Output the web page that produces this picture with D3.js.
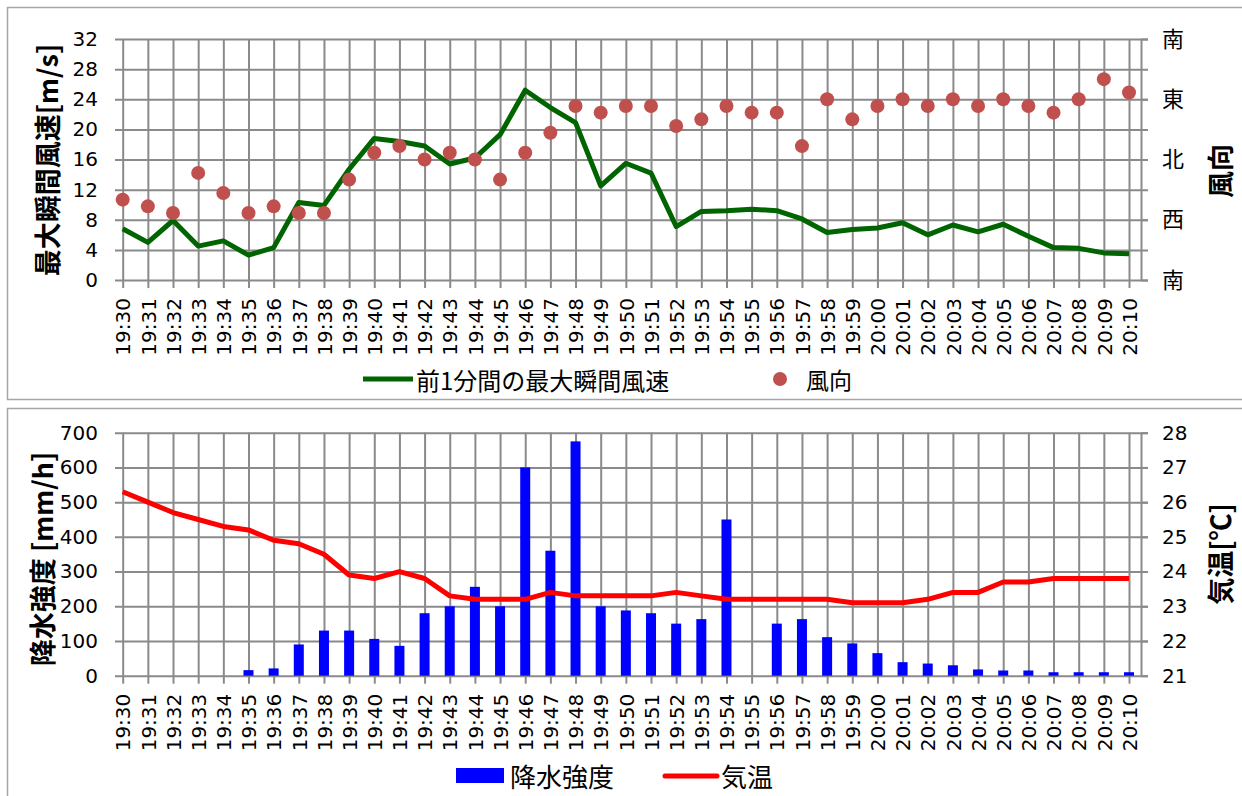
<!DOCTYPE html>
<html>
<head>
<meta charset="utf-8">
<script src="https://cdn.jsdelivr.net/npm/d3@7"></script>
<style>
  body { margin: 0; background: #fff; }
  svg text { fill: #000; }
</style>
</head>
<body>
<div id="chart"></div>
<script>
// --- data ---
const times = ["19:30","19:31","19:32","19:33","19:34","19:35","19:36","19:37","19:38","19:39",
    "19:40","19:41","19:42","19:43","19:44","19:45","19:46","19:47","19:48","19:49",
    "19:50","19:51","19:52","19:53","19:54","19:55","19:56","19:57","19:58","19:59",
    "20:00","20:01","20:02","20:03","20:04","20:05","20:06","20:07","20:08","20:09","20:10"];

// 前1分間の最大瞬間風速 [m/s]
const gust = [6.8, 5.0, 7.9, 4.5, 5.2, 3.3, 4.3, 10.3, 9.9, 14.7,
    18.8, 18.4, 17.8, 15.4, 16.2, 19.3, 25.2, 22.9, 20.9, 12.5,
    15.5, 14.2, 7.1, 9.1, 9.2, 9.4, 9.2, 8.1, 6.3, 6.7,
    6.9, 7.6, 6.0, 7.3, 6.4, 7.4, 5.8, 4.3, 4.2, 3.6, 3.5];

// 風向 [deg, 0 = 北, 90 = 東]
const windDir = [300, 290, 280, 340, 310, 280, 290, 280, 280, 330,
    10, 20, 0, 10, 0, 330, 10, 40, 80, 70,
    80, 80, 50, 60, 80, 70, 70, 20, 90, 60,
    80, 90, 80, 90, 80, 90, 80, 70, 90, 120, 100];

// 降水強度 [mm/h]
const rain = [0, 0, 0, 0, 0, 16, 21, 90, 130, 130,
    106, 86, 180, 200, 256, 200, 600, 360, 675, 200,
    188, 180, 150, 163, 450, 0, 150, 163, 111, 93,
    65, 39, 35, 30, 18, 15, 15, 10, 10, 10, 10];

// 気温 [℃]
const temp = [26.3, 26.0, 25.7, 25.5, 25.3, 25.2, 24.9, 24.8, 24.5, 23.9,
    23.8, 24.0, 23.8, 23.3, 23.2, 23.2, 23.2, 23.4, 23.3, 23.3,
    23.3, 23.3, 23.4, 23.3, 23.2, 23.2, 23.2, 23.2, 23.2, 23.1,
    23.1, 23.1, 23.2, 23.4, 23.4, 23.7, 23.7, 23.8, 23.8, 23.8, 23.8];

const gustTicks = [0, 4, 8, 12, 16, 20, 24, 28, 32];
const dirTicks = [0, 90, 180, 270, 360];
const dirLabels = ["南", "西", "北", "東", "南"];
const rainTicks = [0, 100, 200, 300, 400, 500, 600, 700];
const tempTicks = [21, 22, 23, 24, 25, 26, 27, 28];

// --- layout ---
const W = 1242, H = 796;
const plotL = 122.7, plotR = 1141, tickL = 115;
const grid = "#8a8a8a";
const numFont = "DejaVu Sans";
const cjkFont = "Noto Sans CJK JP";

const svg = d3.select("#chart").append("svg")
    .attr("width", W).attr("height", H)
    .style("display", "block");

// panel borders
svg.append("rect").attr("x", 7.5).attr("y", 7.5).attr("width", W).attr("height", 392)
    .attr("fill", "none").attr("stroke", "#a6a6a6").attr("stroke-width", 1.5);
svg.append("rect").attr("x", 7.5).attr("y", 408.5).attr("width", W).attr("height", 400)
    .attr("fill", "none").attr("stroke", "#a6a6a6").attr("stroke-width", 1.5);

const x = d3.scalePoint().domain(times).range([plotL, 1129]);

function styleAxis(g) {
    g.selectAll(".tick line").attr("stroke", grid).attr("stroke-width", 2);
    g.selectAll("path.domain").remove();
}

function drawFrame(top, bottom, yLeft, leftTicks, yRight, rightTicks, rightFmt, rightFont) {
    // horizontal grid + left labels
    const gl = svg.append("g").attr("transform", `translate(${tickL},0)`)
        .call(d3.axisLeft(yLeft).tickValues(leftTicks).tickSize(-(1148 - tickL)).tickPadding(17));
    styleAxis(gl);
    gl.selectAll("text").attr("font-family", numFont).attr("font-size", 20);

    // vertical grid + rotated time labels
    const gx = svg.append("g").attr("transform", `translate(0,${bottom + 8})`)
        .call(d3.axisBottom(x).tickSize(-(bottom + 8 - top)));
    styleAxis(gx);
    gx.selectAll("text")
        .attr("font-family", numFont).attr("font-size", 20)
        .attr("transform", "rotate(-90)")
        .attr("text-anchor", "end")
        .attr("x", -10).attr("y", 0).attr("dy", "0.36em");

    // right axis
    const gr = svg.append("g").attr("transform", `translate(${plotR},0)`)
        .call(d3.axisRight(yRight).tickValues(rightTicks).tickFormat(rightFmt)
            .tickSize(7).tickSizeOuter(0).tickPadding(14));
    gr.selectAll(".tick line").attr("stroke", grid).attr("stroke-width", 2);
    gr.select("path.domain").attr("stroke", grid).attr("stroke-width", 2);
    gr.selectAll("text").attr("font-family", rightFont).attr("font-size", rightFont === cjkFont ? 22 : 20);
}

function title(txt, cx, cy) {
    svg.append("text")
        .attr("transform", `translate(${cx},${cy}) rotate(-90)`)
        .attr("text-anchor", "middle")
        .attr("dominant-baseline", "central")
        .attr("font-family", cjkFont).attr("font-weight", "bold").attr("font-size", 27)
        .text(txt);
}

// ===== top chart =====
const t0 = 39, t1 = 280;
const yGust = d3.scaleLinear().domain([0, 32]).range([t1, t0]);
const yDir = d3.scaleLinear().domain([0, 360]).range([t1, t0]);
drawFrame(t0, t1, yGust, gustTicks, yDir, dirTicks, (d, i) => dirLabels[i], cjkFont);

svg.append("path")
    .datum(gust)
    .attr("fill", "none").attr("stroke", "#006400").attr("stroke-width", 5)
    .attr("stroke-linejoin", "round")
    .attr("d", d3.line().x((d, i) => x(times[i])).y(d => yGust(d)));

svg.append("g").selectAll("circle")
    .data(windDir)
    .join("circle")
    .attr("cx", (d, i) => x(times[i]))
    .attr("cy", d => yDir((d + 180) % 360))
    .attr("r", 7)
    .attr("fill", "#c0504d");

title("最大瞬間風速[m/s]", 46, 160);
title("風向", 1219, 171);

// top legend
const lg1 = svg.append("g").attr("font-family", cjkFont).attr("font-size", 24);
lg1.append("line").attr("x1", 363).attr("x2", 413).attr("y1", 379).attr("y2", 379)
    .attr("stroke", "#006400").attr("stroke-width", 5);
lg1.append("text").attr("x", 416).attr("y", 379).attr("dominant-baseline", "central")
    .text("前1分間の最大瞬間風速");
lg1.append("circle").attr("cx", 780).attr("cy", 379).attr("r", 7).attr("fill", "#c0504d");
lg1.append("text").attr("x", 806).attr("y", 379).attr("dominant-baseline", "central")
    .attr("font-size", 23).text("風向");

// ===== bottom chart =====
const b0 = 432.7, b1 = 675.7;
const yRain = d3.scaleLinear().domain([0, 700]).range([b1, b0]);
const yTemp = d3.scaleLinear().domain([21, 28]).range([b1, b0]);
drawFrame(b0, b1, yRain, rainTicks, yTemp, tempTicks, d3.format("d"), numFont);

const barW = 10;
svg.append("g").selectAll("rect")
    .data(rain)
    .join("rect")
    .attr("x", (d, i) => x(times[i]) - barW / 2)
    .attr("y", d => yRain(d))
    .attr("width", barW)
    .attr("height", d => yRain(0) - yRain(d))
    .attr("fill", "#0000ff");

svg.append("path")
    .datum(temp)
    .attr("fill", "none").attr("stroke", "#ff0000").attr("stroke-width", 5)
    .attr("stroke-linejoin", "round")
    .attr("d", d3.line().x((d, i) => x(times[i])).y(d => yTemp(d)));

title("降水強度 [mm/h]", 41.5, 559);
title("気温[℃]", 1219, 554);

// bottom legend
const lg2 = svg.append("g").attr("font-family", cjkFont).attr("font-size", 26);
lg2.append("rect").attr("x", 456).attr("y", 768).attr("width", 48).attr("height", 15)
    .attr("fill", "#0000ff");
lg2.append("text").attr("x", 510).attr("y", 775.5).attr("dominant-baseline", "central")
    .text("降水強度");
lg2.append("line").attr("x1", 665).attr("x2", 717).attr("y1", 776).attr("y2", 776)
    .attr("stroke", "#ff0000").attr("stroke-width", 5).attr("stroke-linecap", "round");
lg2.append("text").attr("x", 721).attr("y", 775.5).attr("dominant-baseline", "central")
    .text("気温");
</script>
</body>
</html>
